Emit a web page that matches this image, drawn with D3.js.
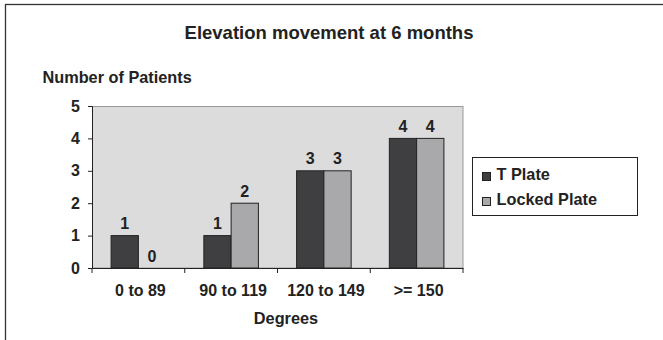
<!DOCTYPE html>
<html>
<head>
<meta charset="utf-8">
<script src="https://cdn.jsdelivr.net/npm/d3@7"></script>
<style>
  body { margin: 0; background: #fff; }
  text { font-family: "Liberation Sans", Arial, sans-serif; font-weight: bold; fill: #222; }
</style>
</head>
<body>
<div id="chart"></div>
<script>
// Elevation movement at 6 months – grouped bars
const categories = ["0 to 89", "90 to 119", "120 to 149", ">= 150"];
const seriesNames = ["T Plate", "Locked Plate"];
const tPlate = [1, 1, 3, 4];
const lockedPlate = [0, 2, 3, 4];
const yTicks = [0, 1, 2, 3, 4, 5];

const W = 663, H = 340;
const margin = {left: 92, top: 106, right: 200, bottom: 72};
const plotW = W - margin.left - margin.right;
const plotH = H - margin.top - margin.bottom;
const colors = ["#3f3f42", "#a9a9ac"];
const ink = "#222";

const svg = d3.select("#chart").append("svg")
    .attr("width", W)
    .attr("height", H);

// outer frame (runs off the bottom/right of the picture)
svg.append("rect")
   .attr("x", 5.5).attr("y", 4.5)
   .attr("width", W + 10).attr("height", H + 10)
   .attr("fill", "none").attr("stroke", "#333").attr("stroke-width", 1.3);

svg.append("text")
   .attr("x", 329).attr("y", 38.5)
   .attr("text-anchor", "middle")
   .style("font-size", "18.5px")
   .text("Elevation movement at 6 months");

svg.append("text")
   .attr("x", 42.5).attr("y", 83)
   .style("font-size", "16.3px")
   .text("Number of Patients");

const g = svg.append("g")
    .attr("transform", "translate(" + margin.left + "," + margin.top + ")");

const x0 = d3.scaleBand().domain(categories).range([0, plotW]).paddingInner(0).paddingOuter(0);
const x1 = d3.scaleBand().domain(seriesNames).range([0, x0.bandwidth()]).paddingInner(0).paddingOuter(0.7);
const y = d3.scaleLinear().domain([0, 5]).range([plotH, 0]);

// plot background
g.append("rect")
 .attr("x", 0.5).attr("y", 0.5)
 .attr("width", plotW - 0.5).attr("height", plotH - 0.5)
 .attr("fill", "#dcdcdd").attr("stroke", "#9a9a9a");

const rows = categories.map((c, i) => ({cat: c, vals: [tPlate[i], lockedPlate[i]]}));

const groups = g.selectAll(".grp").data(rows).enter().append("g")
    .attr("transform", d => "translate(" + x0(d.cat) + ",0)");

groups.selectAll("rect").data(d => d.vals.map((v, k) => ({k, v}))).enter()
  .filter(d => d.v > 0)
  .append("rect")
  .attr("x", d => x1(seriesNames[d.k]))
  .attr("y", d => y(d.v))
  .attr("width", x1.bandwidth())
  .attr("height", d => y(0) - y(d.v))
  .attr("fill", d => colors[d.k])
  .attr("stroke", ink).attr("stroke-width", 1);

groups.selectAll(".lbl").data(d => d.vals.map((v, k) => ({k, v}))).enter()
  .append("text")
  .attr("x", d => x1(seriesNames[d.k]) + x1.bandwidth() / 2)
  .attr("y", d => y(d.v) - 6.5)
  .attr("text-anchor", "middle")
  .style("font-size", "16px")
  .text(d => d.v);

// y axis
const yAxis = g.append("g").call(d3.axisLeft(y).tickValues(yTicks).tickSize(4).tickPadding(8).tickFormat(d3.format("d")));
yAxis.select(".domain").attr("stroke", ink);
yAxis.selectAll("line").attr("stroke", ink);
yAxis.selectAll("text").style("font-size", "16px").style("font-family", "Liberation Sans, Arial").attr("fill", ink);

// x axis with ticks at category boundaries
const xAxis = g.append("g").attr("transform", "translate(0," + plotH + ")")
  .call(d3.axisBottom(x0).tickSize(0).tickPadding(16.5));
xAxis.select(".domain").attr("stroke", ink);
xAxis.selectAll("text").style("font-size", "16px").style("font-family", "Liberation Sans, Arial").attr("fill", ink).attr("dx", 2);
xAxis.selectAll(".bnd").data(d3.range(categories.length + 1)).enter().append("line")
  .attr("x1", i => i * x0.step()).attr("x2", i => i * x0.step())
  .attr("y1", 0).attr("y2", 5).attr("stroke", ink);

svg.append("text")
   .attr("x", 286).attr("y", 324)
   .attr("text-anchor", "middle")
   .style("font-size", "16.3px")
   .text("Degrees");

// legend
const leg = svg.append("g").attr("transform", "translate(472,157)");
leg.append("rect").attr("x", 0.5).attr("y", 0.5).attr("width", 165).attr("height", 58)
   .attr("fill", "#fff").attr("stroke", ink);
seriesNames.forEach((s, k) => {
  leg.append("rect").attr("x", 10.5).attr("y", 15.5 + k * 25).attr("width", 8).attr("height", 8)
     .attr("fill", colors[k]).attr("stroke", ink);
  leg.append("text").attr("x", 24.5).attr("y", 22.5 + k * 25.5).style("font-size", "16.3px").text(s);
});
</script>
</body>
</html>
